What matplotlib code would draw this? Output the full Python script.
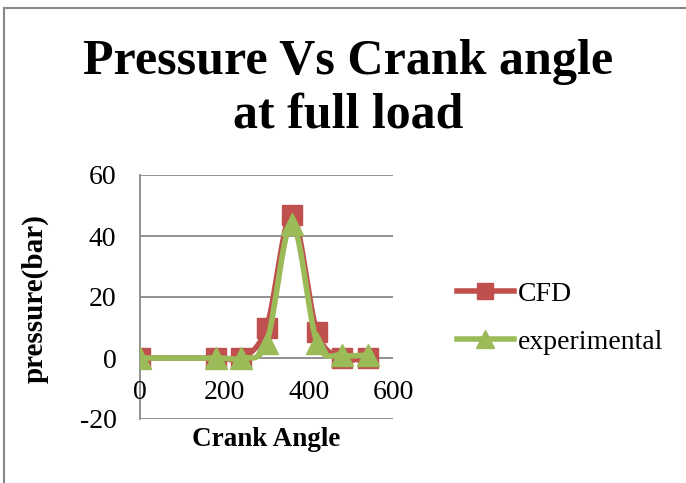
import numpy as np
import matplotlib
matplotlib.use("Agg")
import matplotlib.pyplot as plt
from matplotlib.lines import Line2D

# ---- data ----
crank_angle = [0, 180, 240, 300, 360, 420, 480, 540]
cfd = [0, 0, 0, 10, 47, 8.5, 0, 0]
experimental = [0, 0, 0, 5, 44, 5, 1, 1]
x_ticks = [0, 200, 400, 600]
y_ticks = [-20, 0, 20, 40, 60]
title = "Pressure Vs Crank angle\nat full load"
x_label = "Crank Angle"
y_label = "pressure(bar)"
series_names = ["CFD", "experimental"]

RED = "#C0504D"
GREEN = "#9BBB59"
GRID = "#888888"
FONT = "Liberation Serif"


def smooth(xs, ys, n=40):
    """Excel-like smoothed line: cubic Bezier with Catmull-Rom tangents."""
    xs = np.asarray(xs, float)
    ys = np.asarray(ys, float)
    pts = np.column_stack([xs, ys])
    out = []
    m = len(pts)
    for i in range(m - 1):
        p0 = pts[i - 1] if i > 0 else pts[i]
        p1 = pts[i]
        p2 = pts[i + 1]
        p3 = pts[i + 2] if i + 2 < m else pts[i + 1]
        c1 = p1 + (p2 - p0) / 6.0
        c2 = p2 - (p3 - p1) / 6.0
        t = np.linspace(0, 1, n)[:, None]
        seg = ((1 - t) ** 3) * p1 + 3 * ((1 - t) ** 2) * t * c1 + 3 * (1 - t) * t ** 2 * c2 + t ** 3 * p2
        out.append(seg if i == 0 else seg[1:])
    seg = np.vstack(out)
    return seg[:, 0], seg[:, 1]


W, H = 686, 483
fig = plt.figure(figsize=(W / 100, H / 100), dpi=100)

# outer chart frame (left and top visible)
fig.add_artist(Line2D([4 / W, 4 / W], [0, 1 - 8 / H], transform=fig.transFigure, color=GRID, lw=1.5))
fig.add_artist(Line2D([4 / W, 1], [1 - 8 / H, 1 - 8 / H], transform=fig.transFigure, color=GRID, lw=1.5))

ax = fig.add_axes([140 / W, 1 - 419 / H, (393 - 140) / W, (419 - 175) / H])
ax.set_xlim(0, 600)
ax.set_ylim(-20, 60)

for y in y_ticks:
    ax.axhline(y, color=GRID, lw=1.3, zorder=1)

for s in ["top", "right", "bottom"]:
    ax.spines[s].set_visible(False)
ax.spines["left"].set_color(GRID)
ax.spines["left"].set_linewidth(1.3)

ax.set_yticks(y_ticks)
ax.set_yticklabels([str(v) for v in y_ticks], fontsize=20, family=FONT)
ax.tick_params(axis="y", length=0, pad=17)

ax.set_xticks([])
for xv in x_ticks:
    ax.annotate(str(xv), xy=(xv, 0), xycoords="data", xytext=(0, -16), textcoords="offset points",
                ha="center", va="top", fontsize=20, family=FONT, annotation_clip=False)

# series
sx, sy = smooth(crank_angle, cfd)
ax.plot(sx, sy, color=RED, lw=4, zorder=3, solid_capstyle="round")
ax.plot(crank_angle, cfd, ls="none", marker="s", ms=14, color=RED, zorder=4)
ex, ey = smooth(crank_angle, experimental)
ax.plot(ex, ey, color=GREEN, lw=4, zorder=5, solid_capstyle="round")
ax.plot(crank_angle, experimental, ls="none", marker="^", ms=16, color=GREEN, zorder=6)

fig.text(266 / W, 1 - 440 / H, x_label, ha="center", va="center", fontsize=19.5,
         fontweight="bold", family=FONT)
fig.text(35 / W, 1 - 299 / H, y_label, ha="center", va="center", fontsize=21,
         fontweight="bold", family=FONT, rotation=90)

fig.text(348 / W, 1 - 62 / H, title.split("\n")[0], ha="center", va="center", fontsize=36,
         fontweight="bold", family=FONT)
fig.text(348 / W, 1 - 115 / H, title.split("\n")[1], ha="center", va="center", fontsize=36,
         fontweight="bold", family=FONT)

handles = [Line2D([], [], color=RED, lw=4, marker="s", ms=12),
           Line2D([], [], color=GREEN, lw=4, marker="^", ms=13)]
fig.legend(handles, series_names, loc="center left", bbox_to_anchor=(432 / W, 1 - 318 / H),
           frameon=False, prop={"family": FONT, "size": 20}, handlelength=2.05,
           handletextpad=0.15, labelspacing=0.8, numpoints=1)

fig.savefig("out.png", dpi=100)
